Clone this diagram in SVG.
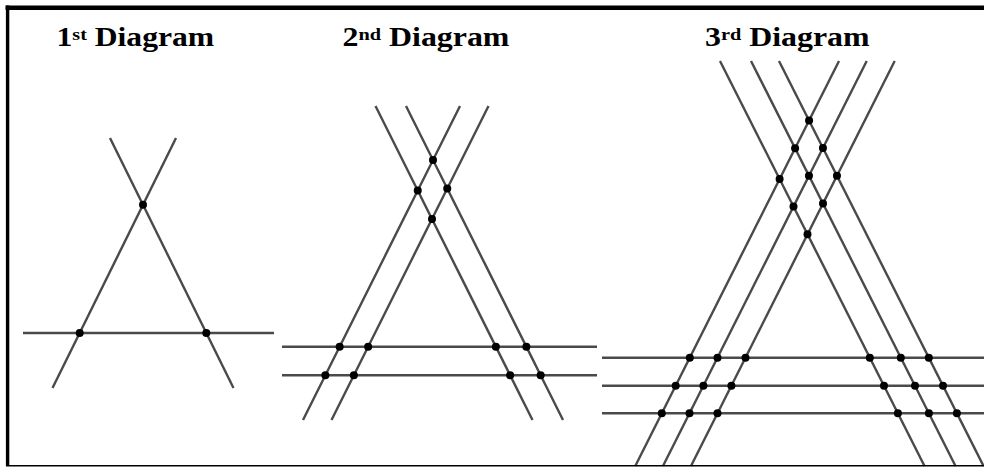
<svg xmlns="http://www.w3.org/2000/svg" width="984" height="467" viewBox="0 0 984 467">
<style>
.ln{stroke:#4a4a4a;stroke-width:2.4;fill:none;stroke-linecap:butt}
.dot{fill:#000}
.ttl{font-family:"Liberation Serif","Times New Roman",serif;font-weight:bold;font-size:27.5px;fill:#000}
.sup{font-size:17.5px}
.frame{stroke:#000;fill:none}
</style>
<rect width="984" height="467" fill="#fff"/>
<g id="frame">
<line class="frame" x1="5.5" y1="7.7" x2="984" y2="7.7" stroke-width="4.6"/>
<line class="frame" x1="7.6" y1="5.5" x2="7.6" y2="466" stroke-width="3.4"/>
</g>
<g id="diagram1">
<text class="ttl" font-family="Liberation Serif, serif" transform="translate(56.5,46) scale(1.15,1)">1<tspan class="sup" dy="-6">st</tspan><tspan dy="6"> Diagram</tspan></text>
<g id="lines1">
<line class="ln" x1="110" y1="138" x2="233.5" y2="388"/>
<line class="ln" x1="176" y1="138" x2="52.5" y2="388"/>
<line class="ln" x1="23" y1="333" x2="274" y2="333"/>
</g>
<g id="dots1">
<circle class="dot" cx="143" cy="204.8" r="4"/>
<circle class="dot" cx="79.7" cy="333" r="4"/>
<circle class="dot" cx="206.3" cy="333" r="4"/>
</g>
</g>
<g id="diagram2">
<text class="ttl" font-family="Liberation Serif, serif" transform="translate(342.5,46) scale(1.16,1)">2<tspan class="sup" dy="-6">nd</tspan><tspan dy="6"> Diagram</tspan></text>
<g id="lines2">
<line class="ln" x1="375.5" y1="106" x2="532.5" y2="420"/>
<line class="ln" x1="406" y1="106" x2="563" y2="420"/>
<line class="ln" x1="460" y1="106" x2="303" y2="420"/>
<line class="ln" x1="488.5" y1="106" x2="331.5" y2="420"/>
<line class="ln" x1="282" y1="346.7" x2="597" y2="346.7"/>
<line class="ln" x1="282" y1="375.3" x2="597" y2="375.3"/>
</g>
<g id="dots2">
<circle class="dot" cx="433" cy="160" r="4"/>
<circle class="dot" cx="417.75" cy="190.5" r="4"/>
<circle class="dot" cx="447.25" cy="188.5" r="4"/>
<circle class="dot" cx="432" cy="219" r="4"/>
<circle class="dot" cx="339.65" cy="346.7" r="4"/>
<circle class="dot" cx="368.15" cy="346.7" r="4"/>
<circle class="dot" cx="495.85" cy="346.7" r="4"/>
<circle class="dot" cx="526.35" cy="346.7" r="4"/>
<circle class="dot" cx="325.35" cy="375.3" r="4"/>
<circle class="dot" cx="353.85" cy="375.3" r="4"/>
<circle class="dot" cx="510.15" cy="375.3" r="4"/>
<circle class="dot" cx="540.65" cy="375.3" r="4"/>
</g>
</g>
<g id="diagram3">
<text class="ttl" font-family="Liberation Serif, serif" transform="translate(705,46) scale(1.16,1)">3<tspan class="sup" dy="-6">rd</tspan><tspan dy="6"> Diagram</tspan></text>
<g id="lines3">
<line class="ln" x1="720" y1="61" x2="924.5" y2="466"/>
<line class="ln" x1="751" y1="61" x2="955.5" y2="466"/>
<line class="ln" x1="779" y1="61" x2="983.5" y2="466"/>
<line class="ln" x1="839" y1="61" x2="635.3" y2="466"/>
<line class="ln" x1="866.7" y1="61" x2="663" y2="466"/>
<line class="ln" x1="894.7" y1="61" x2="691" y2="466"/>
<line class="ln" x1="602" y1="357.7" x2="984" y2="357.7"/>
<line class="ln" x1="602" y1="385.7" x2="984" y2="385.7"/>
<line class="ln" x1="602" y1="413.3" x2="984" y2="413.3"/>
</g>
<g id="dots3">
<circle class="dot" cx="809.06" cy="120.52" r="4"/>
<circle class="dot" cx="795.1" cy="148.3" r="4"/>
<circle class="dot" cx="822.94" cy="148" r="4"/>
<circle class="dot" cx="779.6" cy="179.05" r="4"/>
<circle class="dot" cx="808.96" cy="175.78" r="4"/>
<circle class="dot" cx="836.96" cy="175.78" r="4"/>
<circle class="dot" cx="793.5" cy="206.54" r="4"/>
<circle class="dot" cx="822.99" cy="203.56" r="4"/>
<circle class="dot" cx="807.5" cy="234.31" r="4"/>
<circle class="dot" cx="689.8" cy="357.7" r="4"/>
<circle class="dot" cx="717.5" cy="357.7" r="4"/>
<circle class="dot" cx="745.5" cy="357.7" r="4"/>
<circle class="dot" cx="869.8" cy="357.7" r="4"/>
<circle class="dot" cx="900.8" cy="357.7" r="4"/>
<circle class="dot" cx="928.8" cy="357.7" r="4"/>
<circle class="dot" cx="675.7" cy="385.7" r="4"/>
<circle class="dot" cx="703.4" cy="385.7" r="4"/>
<circle class="dot" cx="731.4" cy="385.7" r="4"/>
<circle class="dot" cx="884" cy="385.7" r="4"/>
<circle class="dot" cx="915" cy="385.7" r="4"/>
<circle class="dot" cx="943" cy="385.7" r="4"/>
<circle class="dot" cx="661.8" cy="413.3" r="4"/>
<circle class="dot" cx="689.5" cy="413.3" r="4"/>
<circle class="dot" cx="717.5" cy="413.3" r="4"/>
<circle class="dot" cx="897.9" cy="413.3" r="4"/>
<circle class="dot" cx="928.9" cy="413.3" r="4"/>
<circle class="dot" cx="956.9" cy="413.3" r="4"/>
</g>
</g>
<line id="bottom-border" class="frame" x1="6" y1="465.8" x2="984" y2="465.8" stroke-width="1.5"/>
</svg>
